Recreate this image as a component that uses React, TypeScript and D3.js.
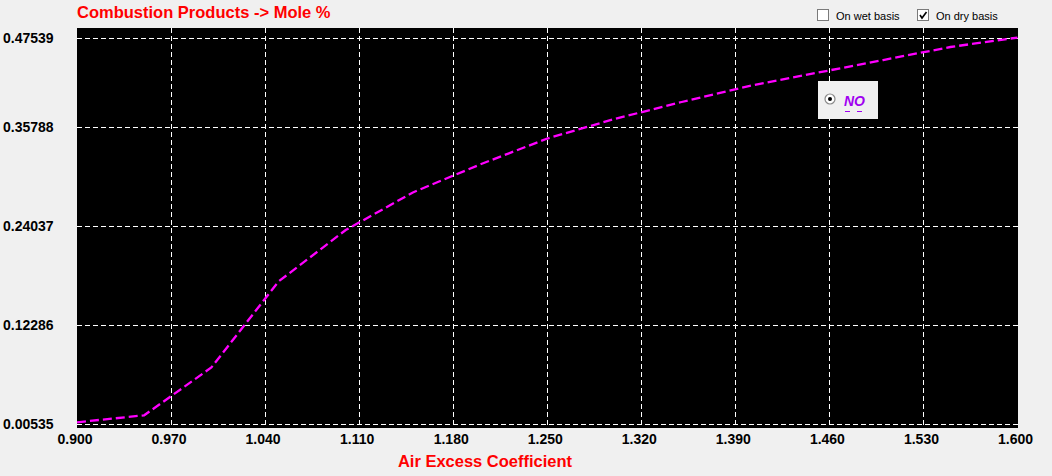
import React from "react";
import * as d3 from "d3";

const airExcess = [0.9, 0.95, 1.0, 1.05, 1.1, 1.15, 1.2, 1.25, 1.3, 1.35, 1.4, 1.45, 1.5, 1.55, 1.6];
const noMolePct = [0.00737, 0.01568, 0.07242, 0.1745, 0.2356, 0.2802, 0.3134, 0.3442, 0.3684, 0.3909, 0.412, 0.4292, 0.4463, 0.4635, 0.476];
const xTickValues = [0.9, 0.97, 1.04, 1.11, 1.18, 1.25, 1.32, 1.39, 1.46, 1.53, 1.6];
const yTickValues = [0.00535, 0.12286, 0.24037, 0.35788, 0.47539];
const seriesName = "NO";
const titleText = "Combustion Products -> Mole %";
const xAxisTitle = "Air Excess Coefficient";
const checkLabels = ["On wet basis", "On dry basis"];
const checkStates = [false, true];

const W = 1052;
const H = 476;
const plotLeft = 77;
const plotRight = 1018;
const plotTop = 28;
const plotBottom = 428;

export default function App() {
  if (typeof document !== "undefined") {
    document.body.style.margin = "0";
    document.body.style.overflow = "hidden";
  }
  const x = d3.scaleLinear().domain([0.9, 1.6]).range([plotLeft, 1017.5]);
  const y = d3
    .scaleLinear()
    .domain([yTickValues[0], yTickValues[3], yTickValues[4]])
    .range([424, 127, 38]);

  const lineGen = d3
    .line<number>()
    .x((_, i) => x(airExcess[i]))
    .y((d) => y(d));

  const font = "Tahoma, 'Liberation Sans', Arial, sans-serif";
  const legendX = 818;
  const legendY = 81;

  return (
    <svg
      width={W}
      height={H}
      style={{ position: "absolute", left: 0, top: 0, background: "#f0f0f0" }}
      fontFamily={font}
    >
      <rect x={0} y={0} width={W} height={H} fill="#f0f0f0" />
      <text x={77} y={18} fill="#ff0000" fontSize={16.5} fontWeight="bold">
        {titleText}
      </text>

      {checkLabels.map((lbl, i) => {
        const bx = i === 0 ? 817 : 917;
        return (
          <g key={lbl}>
            <rect x={bx + 0.5} y={9.5} width={11} height={11} fill="#ffffff" stroke="#7a7a7a" />
            {checkStates[i] && (
              <path
                d={`M${bx + 3} ${15} L${bx + 5} ${18} L${bx + 9.5} ${12}`}
                fill="none"
                stroke="#000"
                strokeWidth={1.6}
              />
            )}
            <text x={bx + 19} y={19.5} fontSize={11} fill="#000">
              {lbl}
            </text>
          </g>
        );
      })}

      <rect x={plotLeft} y={plotTop} width={plotRight - plotLeft} height={plotBottom - plotTop} fill="#000" />
      <defs>
        <clipPath id="plotClip">
          <rect x={plotLeft} y={plotTop} width={plotRight - plotLeft} height={plotBottom - plotTop} />
        </clipPath>
      </defs>

      {yTickValues.map((t) => (
        <line
          key={"hy" + t}
          x1={plotLeft}
          x2={plotRight}
          y1={Math.round(y(t)) + 0.5}
          y2={Math.round(y(t)) + 0.5}
          stroke="#fff"
          strokeWidth={1}
          strokeDasharray="5,3"
        />
      ))}
      {xTickValues.slice(1, -1).map((t) => (
        <line
          key={"vx" + t}
          x1={Math.round(x(t)) + 0.5}
          x2={Math.round(x(t)) + 0.5}
          y1={plotTop}
          y2={plotBottom}
          stroke="#fff"
          strokeWidth={1}
          strokeDasharray="5,3"
        />
      ))}

      <path
        d={lineGen(noMolePct) || ""}
        fill="none"
        stroke="#ff00ff"
        strokeWidth={2.3}
        strokeDasharray="9,4"
        clipPath="url(#plotClip)"
      />

      {yTickValues.map((t) => (
        <text
          key={"yl" + t}
          x={3}
          y={y(t)}
          dy="0.36em"
          fontSize={14}
          fontWeight="bold"
          fill="#000"
        >
          {t.toFixed(5)}
        </text>
      ))}
      {xTickValues.map((t) => (
        <text
          key={"xl" + t}
          x={x(t) - 2}
          y={444}
          textAnchor="middle"
          fontSize={14}
          fontWeight="bold"
          fill="#000"
        >
          {t.toFixed(3)}
        </text>
      ))}

      <text x={485} y={467} textAnchor="middle" fill="#ff0000" fontSize={16.5} fontWeight="bold">
        {xAxisTitle}
      </text>

      <g>
        <rect x={legendX} y={legendY} width={60} height={38} fill="#f0f0f0" />
        <circle cx={830} cy={99} r={5} fill="#fff" stroke="#8a8a8a" strokeWidth={1.2} />
        <circle cx={830} cy={99} r={2} fill="#000" />
        <text x={844} y={106} fill="#a000f0" fontSize={14} fontWeight="bold" fontStyle="italic">
          {seriesName}
        </text>
        <line x1={845} x2={863} y1={111.5} y2={111.5} stroke="#a000f0" strokeWidth={1} strokeDasharray="5,7" />
      </g>
    </svg>
  );
}
